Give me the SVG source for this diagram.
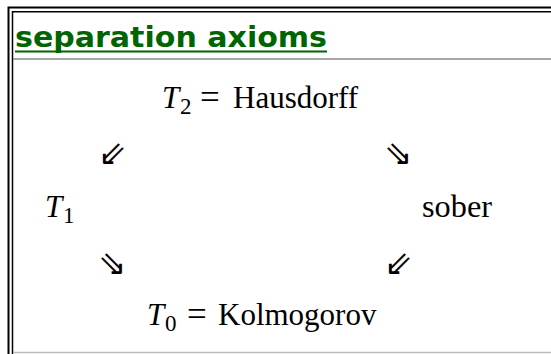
<svg xmlns="http://www.w3.org/2000/svg" width="551" height="354" viewBox="0 0 551 354">
<style>
.m{font-family:"Liberation Serif","DejaVu Serif",serif;font-size:31px;fill:#000}
.it{font-style:italic}
.sub{font-size:23px}
.eq{font-size:35px}
.arr{font-family:"DejaVu Sans",sans-serif;font-size:34px;fill:#000}
.title{font-family:"DejaVu Sans","Liberation Sans",sans-serif;font-weight:bold;font-size:29px;fill:#006400}
</style>
<rect width="551" height="354" fill="#fff"/>
<g id="frame" fill="none">
<path d="M8.5,354 V7.5 H551" stroke="#000" stroke-width="2"/>
<path d="M12.5,354 V11.8 H551" stroke="#000" stroke-width="1.5"/>
<line x1="13" y1="59" x2="551" y2="59" stroke="#888" stroke-width="1.5"/>
<line x1="13" y1="352.5" x2="551" y2="352.5" stroke="#bbb" stroke-width="1.5"/>
</g>
<g id="title">
<text class="title" x="15" y="47" textLength="312" lengthAdjust="spacingAndGlyphs">separation axioms</text>
<line x1="15" y1="51.5" x2="327" y2="51.5" stroke="#006400" stroke-width="2"/>
</g>
<g id="T2">
<text class="m it" x="162" y="108">T</text>
<text class="m sub" x="180" y="114">2</text>
<text class="m eq" x="200" y="109">=</text>
<text class="m" x="233" y="108">Hausdorff</text>
</g>
<g id="T1">
<text class="m it" x="45" y="217">T</text>
<text class="m sub" x="63" y="223">1</text>
</g>
<g id="sober">
<text class="m" x="422" y="217" textLength="70" lengthAdjust="spacingAndGlyphs">sober</text>
</g>
<g id="T0">
<text class="m it" x="147" y="325">T</text>
<text class="m sub" x="165" y="331">0</text>
<text class="m eq" x="187" y="326">=</text>
<text class="m" x="218" y="325">Kolmogorov</text>
</g>
<g id="connectors">
<text class="arr" x="98" y="165">⇙</text>
<text class="arr" x="384" y="165">⇘</text>
<text class="arr" x="98" y="275">⇘</text>
<text class="arr" x="384" y="275">⇙</text>
</g>
</svg>
